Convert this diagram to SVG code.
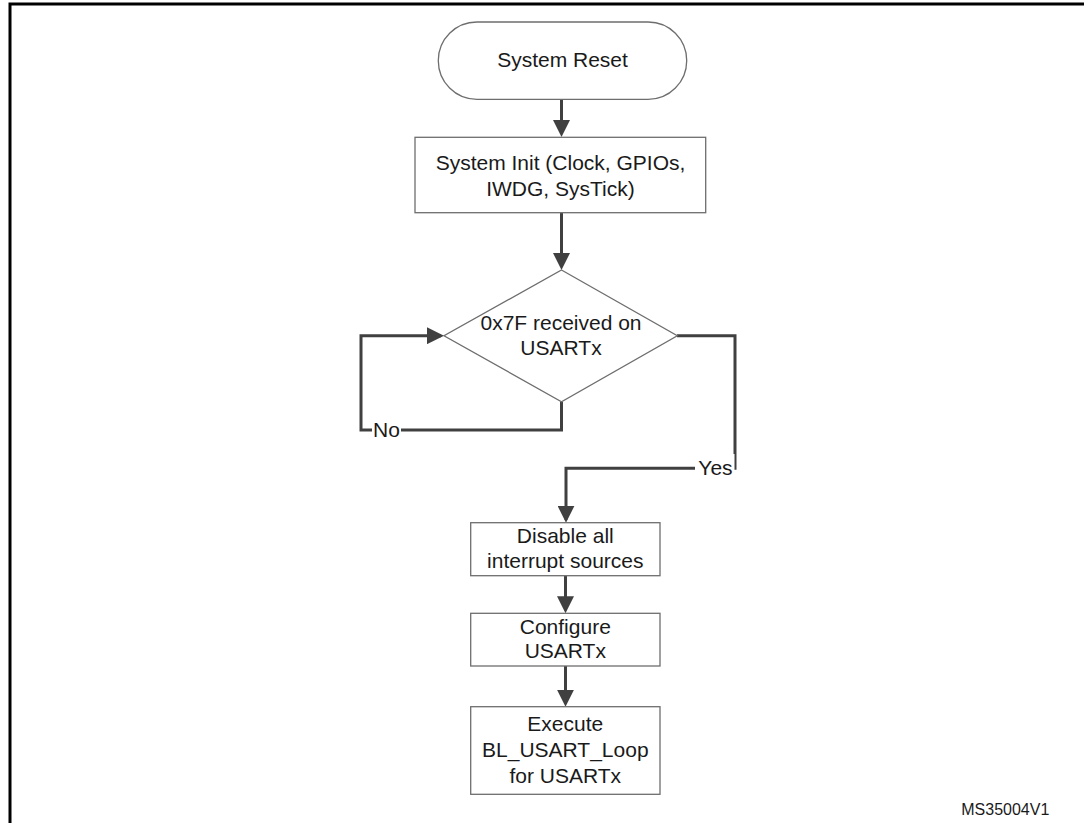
<svg xmlns="http://www.w3.org/2000/svg" width="1084" height="823" viewBox="0 0 1084 823">
  <style>
    .box { fill: #ffffff; stroke: #6e6e6e; stroke-width: 1.3; }
    .lbl { font-family: "Liberation Sans", Arial, sans-serif; font-size: 21px; fill: #1a1a1a; text-anchor: middle; }
    .edge { fill: none; stroke: #404040; stroke-width: 3; }
    .tag { fill: #ffffff; stroke: none; }
  </style>
  <defs>
    <marker id="arrow" markerUnits="userSpaceOnUse" viewBox="0 0 17 17" markerWidth="17" markerHeight="17" refX="14" refY="8.5" orient="auto">
      <path d="M0,0 L17,8.5 L0,17 Z" fill="#404040"/>
    </marker>
  </defs>

  <rect x="0" y="0" width="1084" height="823" fill="#ffffff"/>

  <!-- outer frame -->
  <path d="M10,823 V4 H1084" fill="none" stroke="#000000" stroke-width="3"/>

  <!-- connectors -->
  <g id="connectors">
    <path class="edge" d="M561.5,99.3 V134" marker-end="url(#arrow)"/>
    <path class="edge" d="M561.5,212.7 V267" marker-end="url(#arrow)"/>
    <path class="edge" d="M561.5,401.7 V430 H361 V335.7 H441" marker-end="url(#arrow)"/>
    <path class="edge" d="M677,335.7 H735 V468.3 H566 V519.7" marker-end="url(#arrow)"/>
    <path class="edge" d="M565.5,575.7 V610.3" marker-end="url(#arrow)"/>
    <path class="edge" d="M565.5,666 V703.7" marker-end="url(#arrow)"/>
    <g id="label-no">
      <rect class="tag" x="372" y="419" width="29" height="22"/>
      <text class="lbl" x="386.5" y="437">No</text>
    </g>
    <g id="label-yes">
      <rect class="tag" x="695" y="454" width="39.5" height="28"/>
      <text class="lbl" x="715.5" y="475">Yes</text>
    </g>
  </g>

  <g id="system-reset">
    <rect class="box" x="438.3" y="22" width="248.4" height="77.3" rx="38.6" ry="38.6"/>
    <text class="lbl" x="562.5" y="67">System Reset</text>
  </g>

  <g id="system-init">
    <rect class="box" x="415" y="137.3" width="290.7" height="75.4"/>
    <text class="lbl" x="560.5" y="169.5">System Init (Clock, GPIOs,</text>
    <text class="lbl" x="560.5" y="195.7">IWDG, SysTick)</text>
  </g>

  <g id="check-0x7f">
    <polygon class="box" points="561.5,270 677.3,335.7 561.5,401.7 444,335.7"/>
    <text class="lbl" x="561" y="330">0x7F received on</text>
    <text class="lbl" x="561" y="355">USARTx</text>
  </g>

  <g id="disable-irq">
    <rect class="box" x="470.7" y="522.7" width="189.3" height="53"/>
    <text class="lbl" x="565.3" y="543.3">Disable all</text>
    <text class="lbl" x="565.3" y="568.3">interrupt sources</text>
  </g>

  <g id="configure-usart">
    <rect class="box" x="470.7" y="613.3" width="189.3" height="52.7"/>
    <text class="lbl" x="565.3" y="634.3">Configure</text>
    <text class="lbl" x="565.3" y="657.7">USARTx</text>
  </g>

  <g id="execute-loop">
    <rect class="box" x="470.7" y="706.7" width="189.3" height="87.6"/>
    <text class="lbl" x="565.3" y="731">Execute</text>
    <text class="lbl" x="565.3" y="756.7">BL_USART_Loop</text>
    <text class="lbl" x="565.3" y="782.7">for USARTx</text>
  </g>

  <text x="1005.3" y="815" font-family="'Liberation Sans', Arial, sans-serif" font-size="16" fill="#1a1a1a" text-anchor="middle">MS35004V1</text>
</svg>
